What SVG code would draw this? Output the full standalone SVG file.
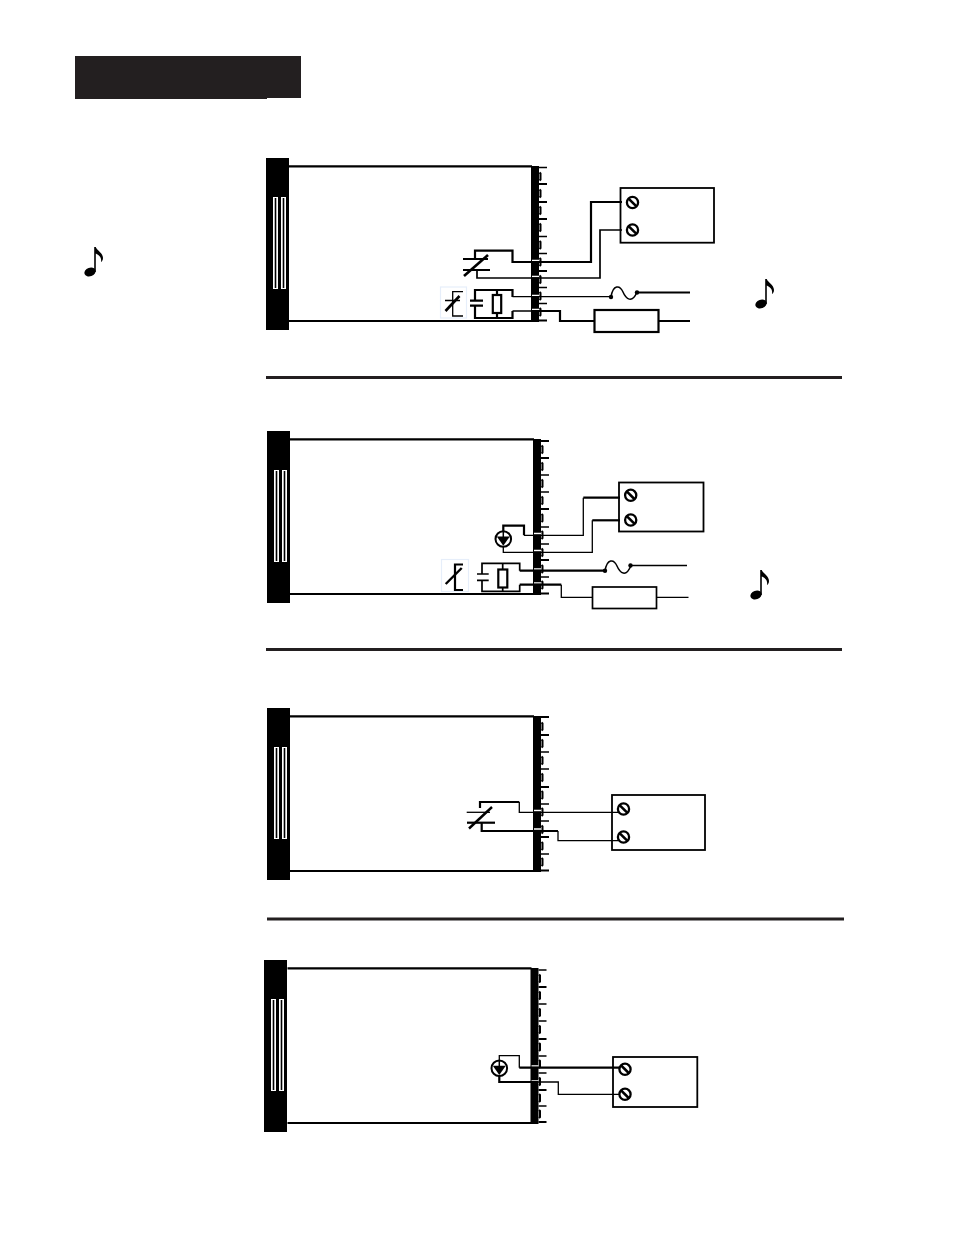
<svg xmlns="http://www.w3.org/2000/svg" width="954" height="1235" viewBox="0 0 954 1235">
<style>
.k{fill:#000}
.w{fill:none;stroke:#000;stroke-width:1.3}
.t{fill:none;stroke:#000;stroke-width:2.2}
.m{fill:none;stroke:#000;stroke-width:1.7}
.box{fill:#fff;stroke:#000;stroke-width:1.7}
.boxt{fill:#fff;stroke:#000;stroke-width:2.2}
.gap{fill:none;stroke:#fff;stroke-width:1.6}
.pale{fill:#fff;stroke:#e6eefa;stroke-width:1.2}
</style>
<defs>
<g id="bar">
<rect class="k" width="23" height="172"/>
<rect x="7" y="39" width="5" height="92" fill="#fff"/><rect x="15" y="39" width="5" height="92" fill="#fff"/>
<rect class="k" x="8.700" y="40" width="1.600" height="90"/><rect class="k" x="16.700" y="40" width="1.600" height="90"/>
</g>
<g id="body">
<path class="t" d="M23 8.300H267M23 163H267"/>
<rect class="k" x="266" y="8" width="8" height="156"/>
<path fill="none" stroke="#000" stroke-width="2" d="M274.500 14.500l1 1v6l-1 1M274.500 31.500l1 1v6l-1 1M274.500 48.500l1 1v6l-1 1M274.500 65.500l1 1v6l-1 1M274.500 83l1 1v6l-1 1M274.500 100l1 1v6l-1 1M274.500 117.500l1 1v6l-1 1M274.500 134l1 1v6l-1 1M274.500 150l1 1v6l-1 1"/>
</g>
<g id="screw"><circle r="5.600" fill="#fff" stroke="#000" stroke-width="2.300"/><path d="M-4.200-4.200L4.200 4.200" stroke="#000" stroke-width="2.600"/></g>
<g id="source"><circle r="7.800" fill="#fff" stroke="#000" stroke-width="2"/><path class="k" d="M-6.500-2.500H6.500L0 6.800Z"/><path d="M0-8V0" stroke="#000" stroke-width="1.500"/></g>
<g id="noteIcon">
<ellipse cx="-5" cy="25" rx="5.800" ry="4.200" transform="rotate(-20 -5 25)" class="k"/>
<path class="k" d="M-0.800 25V0H0.800C1.500 3 8 6 8 11C8 13 7 14.500 6 15C6.500 12 6 9 0.800 6.500V25Z"/>
</g>
</defs>

<g id="header"><rect x="75" y="56" width="226" height="42" fill="#231f20"/><rect x="75" y="98" width="192" height="1" fill="#231f20"/></g>
<g id="dividers"><path d="M266 377.500H842M266 649.500H842M267 919H844" fill="none" stroke="#231f20" stroke-width="2.800"/></g>
<g id="notes">
<use href="#noteIcon" x="95" y="247"/>
<use href="#noteIcon" x="766" y="279"/>
<use href="#noteIcon" x="761" y="570"/>
</g>

<g id="panel-1">
<use href="#bar" x="266" y="158"/><use href="#body" x="265" y="158"/>
<path class="w" d="M539 167.500h8M539 236.500h8M539 253.500h8M539 287.500h8M539 303.500h8"/>
<path class="t" d="M539 184h8M539 202h8M539 219h8M539 271h8M539 320.500h8"/>
</g>
<g id="panel-2">
<use href="#bar" x="267" y="431"/><use href="#body" x="267" y="431"/>
<path class="w" d="M541 475h8M541 492h8M541 527h8M541 544h8M541 577h8"/>
<path class="t" d="M541 441h8M541 458h8M541 509h8M541 560h8M541 593.500h8"/>
</g>
<g id="panel-3">
<use href="#bar" x="267" y="708"/><use href="#body" x="267" y="708"/>
<path class="w" d="M541 752h8M541 769h8M541 804h8M541 821h8M541 854h8"/>
<path class="t" d="M541 717h8M541 735h8M541 787h8M541 837h8M541 870.500h8"/>
</g>
<g id="panel-4">
<use href="#bar" x="264" y="960"/><use href="#body" x="264.500" y="960"/>
<path class="w" d="M538.500 970h8M538.500 1004h8M538.500 1021h8M538.500 1056h8M538.500 1073h8M538.500 1106h8"/>
<path class="t" d="M538.500 987h8M538.500 1039h8M538.500 1090h8M538.500 1122h8"/>
</g>

<g id="connectors">
<path class="gap" d="M532 260.500h7M532 276.500h7M532 295.500h7M532 309.500h7"/>
<path class="t" d="M475 259V250.700H512.500V262H591V202H622"/>
<path class="m" d="M477 270V278H600V230H622"/>
<path class="w" d="M512.500 296.700H540H611M512.500 311H531"/>
<path class="t" d="M531 311H560V321H594"/>
<path class="t" d="M636 292.500H690M658 321H690"/>
<path fill="none" stroke="#000" stroke-width="1.500" d="M611 297C613 284 620 285 623 292S632 304 637 292"/>
<circle class="k" cx="611" cy="297" r="2.200"/><circle class="k" cx="637" cy="292.500" r="2.200"/>
<path class="gap" d="M534 533.500h7M534 550.500h7M534 569h7M534 583h7"/>
<path class="t" d="M503.300 531V525.700H524V535.300"/>
<path class="w" d="M524 535.300H583.300V497.700"/>
<path class="t" d="M583.300 497.700H620"/>
<path class="w" d="M503.300 547V552.300H592.300V520.300"/>
<path class="t" d="M592.300 520.300H620"/>
<path class="t" d="M519.700 570.700H605M519.700 584.700H561.300"/>
<path class="w" d="M561.300 584.700V597.300H592.500M656.500 597.300H688.500M630.500 565.500H687"/>
<path fill="none" stroke="#000" stroke-width="1.500" d="M605 571C607 558 614 559 617 566S626 578 631 565.500"/>
<circle class="k" cx="605" cy="570.700" r="2.200"/><circle class="k" cx="630.500" cy="565.500" r="2.200"/>
<path class="gap" d="M534 810.500h7M534 829h7"/>
<path class="t" d="M480 808V802H519.300"/>
<path class="w" d="M519.300 802V812.300H618"/>
<path class="t" d="M481.700 823V831H558"/>
<path class="w" d="M558 831V840.700H618"/>
<path class="gap" d="M531.500 1066h7M531.500 1081h7"/>
<path class="w" d="M499.300 1060V1055.700H519.300V1067.700"/>
<path class="t" d="M519.300 1067.700H619" stroke="#333"/>
<path class="t" d="M499.300 1076V1082H538"/>
<path class="w" d="M538 1082H558.300V1094.300H619"/>
</g>

<g id="relay-1">
<path class="t" d="M463 259H488M463 270H490"/><path d="M464 276L488 255" stroke="#000" stroke-width="2.600"/>
</g>
<g id="contact-1">
<rect class="pale" x="440.500" y="287" width="26" height="31"/>
<path class="w" d="M463 291.700H452.700V316H463M445 300.500H460"/><path d="M445.500 311L459.500 296" stroke="#000" stroke-width="2.600"/>
</g>
<g id="snubber-1">
<path class="t" d="M475 300.700V290H512.500V297M475 305.700V318H512.500V311M497 290V295M497 313V318"/>
<path class="t" d="M470 300.700H483M470 305.700H483"/>
<rect class="boxt" x="492.800" y="295" width="8.400" height="18"/>
</g>
<g id="device-1"><rect x="620.500" y="188" width="93.500" height="54.700" fill="none" stroke="#000" stroke-width="1.800"/><use href="#screw" x="632.500" y="202.500"/><use href="#screw" x="632.500" y="230"/></g>
<g id="load-1"><rect class="boxt" x="594.500" y="310" width="64" height="22"/></g>

<g id="source-2"><use href="#source" x="503.300" y="539"/></g>
<g id="contact-2">
<rect class="pale" x="441.500" y="559.500" width="27" height="32"/>
<path class="t" d="M463 564.500H455V590H463"/><path d="M445.700 584L461.700 568" stroke="#000" stroke-width="2.400"/>
</g>
<g id="snubber-2">
<path class="m" d="M482 574V563.300H519.700V570.700M482 580.300V591.300H519.700V584.700M502.700 563.300V569M502.700 587.500V591.300"/>
<path class="m" d="M477 574H488.700M477 580.300H488.700"/>
<rect class="boxt" x="498.300" y="569.500" width="9" height="18"/>
</g>
<g id="device-2"><rect x="619" y="482.500" width="84.500" height="49" fill="none" stroke="#000" stroke-width="1.800"/><use href="#screw" x="630.700" y="495.300"/><use href="#screw" x="630.700" y="520"/></g>
<g id="load-2"><rect class="box" x="592.500" y="587" width="64" height="21.500"/></g>

<g id="relay-3">
<path class="w" d="M466.700 812.300H490"/><path class="t" d="M467 822.700H495"/><path d="M469 828.500L492 807" stroke="#000" stroke-width="2.400"/>
</g>
<g id="device-3"><rect x="612" y="795" width="93" height="55" fill="none" stroke="#000" stroke-width="1.800"/><use href="#screw" x="623.500" y="809"/><use href="#screw" x="623.500" y="837"/></g>

<g id="source-4"><use href="#source" x="499.300" y="1068.300"/></g>
<g id="device-4"><rect x="613" y="1057" width="84.300" height="50" fill="none" stroke="#000" stroke-width="1.800"/><use href="#screw" x="625" y="1069.300"/><use href="#screw" x="625" y="1094.300"/></g>
</svg>
